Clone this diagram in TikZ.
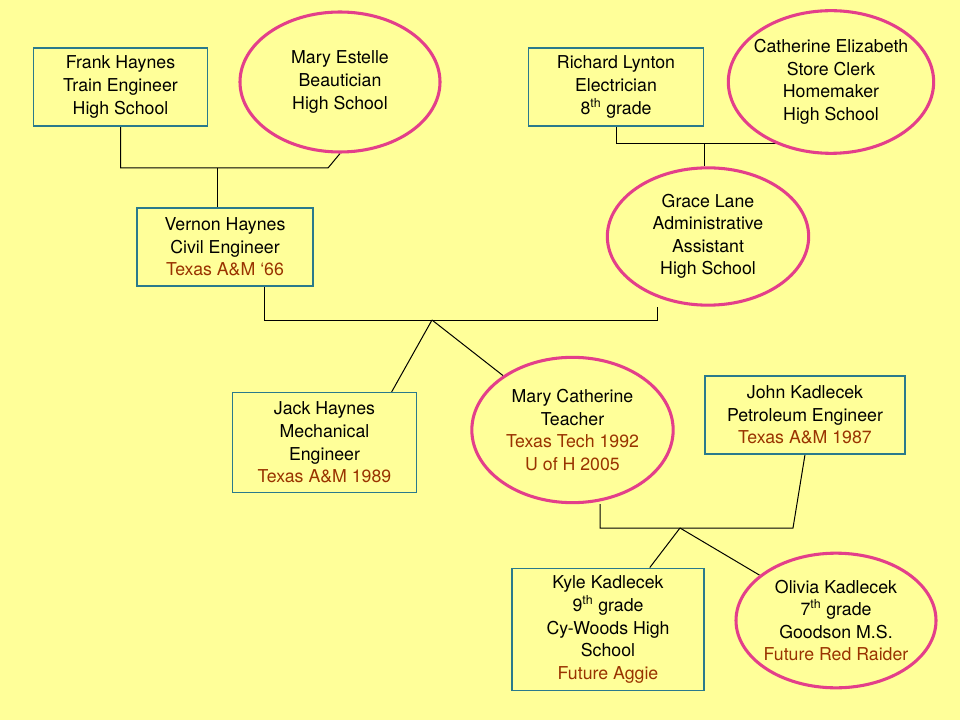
\documentclass[tikz,border=0pt]{standalone}
\usepackage{fontspec}
\setmainfont{TeX Gyre Heros}
\usetikzlibrary{shapes.geometric,backgrounds}

\definecolor{paper}{HTML}{FFFF99}
\definecolor{boxline}{HTML}{2A7A8C}
\definecolor{ovalline}{HTML}{E33F8A}
\definecolor{school}{HTML}{993300}

\tikzset{
  male/.style={shape=rectangle, draw=boxline, line width=0.9pt, fill=paper,
    align=center, inner sep=0pt, font=\fontsize{13.3}{16.9}\selectfont},
  female/.style={shape=ellipse, draw=ovalline, line width=2.3pt, fill=paper,
    align=center, inner sep=-15pt, font=\fontsize{13.3}{16.9}\selectfont},
  link/.style={draw=black, line width=0.75pt}
}
\newcommand{\uni}[1]{\textcolor{school}{#1}}

\begin{document}
\begin{tikzpicture}[x=0.75pt,y=-0.75pt]
    \useasboundingbox (0,0) rectangle (960,720);

    % grandparents
    \node[male, minimum width=131pt, minimum height=58.5pt] (Frank) at (120.5,87) {Frank Haynes\\Train Engineer\\High School};
    \node[female, minimum width=150pt, minimum height=105pt] (MaryE) at (340,82) {Mary Estelle\\Beautician\\High School};
    \node[male, minimum width=131pt, minimum height=58.5pt] (Richard) at (616,87) {Richard Lynton\\Electrician\\8\textsuperscript{th} grade};
    \node[female, minimum width=154pt, minimum height=107pt] (Catherine) at (831,82) {Catherine Elizabeth\\Store Clerk\\Homemaker\\High School};

    % parents
    \node[male, minimum width=132pt, minimum height=58.5pt] (Vernon) at (225,247) {Vernon Haynes\\Civil Engineer\\\uni{Texas A\&M ‘66}};
    \node[female, minimum width=151pt, minimum height=103pt] (Grace) at (708,236.5) {Grace Lane\\Administrative\\Assistant\\High School};

    % children
    \node[male, minimum width=138pt, minimum height=75pt] (Jack) at (324.5,442.5) {Jack Haynes\\Mechanical\\Engineer\\\uni{Texas A\&M 1989}};
    \node[female, minimum width=151pt, minimum height=109pt] (MaryC) at (572.5,430) {Mary Catherine\\Teacher\\\uni{Texas Tech 1992}\\\uni{U of H 2005}};
    \node[male, minimum width=150pt, minimum height=58.5pt] (John) at (805,415) {John Kadlecek\\Petroleum Engineer\\\uni{Texas A\&M 1987}};

    % grandchildren
    \node[male, minimum width=144pt, minimum height=92pt] (Kyle) at (608,629.5) {Kyle Kadlecek\\9\textsuperscript{th} grade\\Cy-Woods High\\School\\\uni{Future Aggie}};
    \node[female, minimum width=150pt, minimum height=101pt] (Olivia) at (836,620.5) {Olivia Kadlecek\\7\textsuperscript{th} grade\\Goodson M.S.\\\uni{Future Red Raider}};

    \coordinate (FM) at (217,168);
    \coordinate (FMr) at (328,168);
    \coordinate (RC) at (704,144);
    \coordinate (RCr) at (800,144);
    \coordinate (VGl) at (264,320);
    \coordinate (VGr) at (657,320);
    \coordinate (VG) at (432,320);
    \coordinate (MJl) at (600,528);
    \coordinate (MJr) at (793,528);
    \coordinate (MJ) at (680,528);

    \begin{scope}[on background layer]
    \fill[paper] (0,0) rectangle (960,720);
    \path[link] (Frank.south) |- (FMr) -- (MaryE.south);
    \path[link] (FM) -- (FM |- Vernon.north);
    \path[link] (Richard.south) |- (RCr);
    \path[link] (RC) -- (RC |- Grace.north);
    \path[link] (VGl |- Vernon.south) -- (VGl) -- (VGr) -- (VGr |- Grace.south);
    \path[link] (VG) -- (Jack.37);
    \path[link] (VG) -- (MaryC);
    \path[link] (MJl |- MaryC.south) -- (MJl) -- (MJr) -- (John.south);
    \path[link] (MJ) -- (Kyle.56);
    \path[link] (MJ) -- (Olivia);
    \end{scope}

\end{tikzpicture}
\end{document}
